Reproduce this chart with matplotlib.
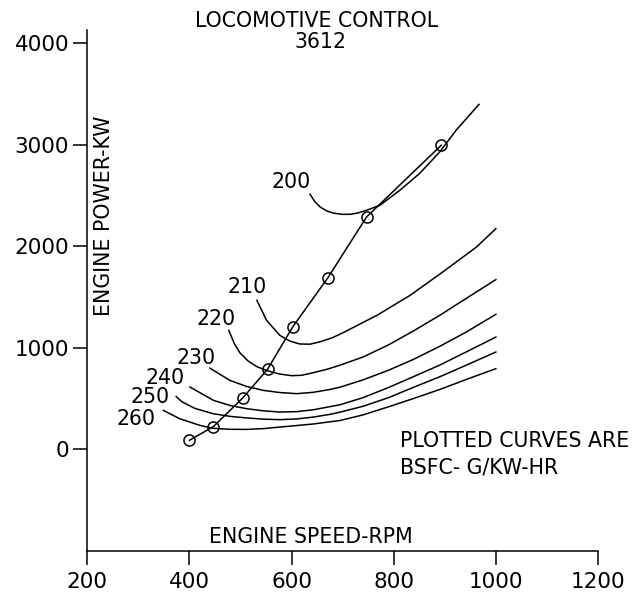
import matplotlib
matplotlib.use('Agg')
import matplotlib.pyplot as plt

plt.rcParams['font.family'] = ['DejaVu Sans']

# operating line (notch points)
op_rpm = [400, 447, 505, 553, 602, 671, 747, 893]
op_kw = [90, 225, 510, 790, 1205, 1690, 2290, 2995]

# constant BSFC curves, g/kW-hr
bsfc200_rpm = [636, 646, 656, 669, 681, 698, 714, 730, 747, 773, 812, 851, 890, 923, 967]
bsfc200_kw = [2512, 2437, 2387, 2348, 2328, 2315, 2315, 2328, 2355, 2404, 2552, 2719, 2929, 3148, 3398]

bsfc210_rpm = [532, 551, 577, 597, 616, 636, 656, 680, 701, 767, 832, 896, 962, 1000]
bsfc210_kw = [1468, 1271, 1123, 1066, 1038, 1036, 1060, 1100, 1150, 1320, 1517, 1747, 1993, 2174]

bsfc220_rpm = [477, 488, 499, 515, 532, 552, 577, 600, 620, 642, 670, 695, 740, 790, 838, 890, 936, 1000]
bsfc220_kw = [1172, 1040, 950, 870, 815, 775, 742, 726, 730, 755, 790, 830, 910, 1030, 1165, 1320, 1468, 1672]

bsfc230_rpm = [440, 479, 512, 545, 577, 610, 642, 675, 695, 740, 790, 838, 890, 940, 1000]
bsfc230_kw = [800, 680, 620, 581, 560, 549, 562, 590, 613, 685, 780, 885, 1015, 1150, 1330]

bsfc240_rpm = [401, 447, 480, 512, 545, 577, 610, 642, 695, 740, 790, 838, 890, 940, 1000]
bsfc240_kw = [614, 483, 432, 401, 380, 368, 372, 390, 440, 510, 610, 715, 830, 955, 1106]

bsfc250_rpm = [374, 385, 410, 446, 480, 512, 545, 577, 610, 642, 675, 695, 740, 790, 838, 890, 940, 1000]
bsfc250_kw = [520, 470, 405, 352, 325, 310, 298, 293, 300, 318, 345, 367, 425, 510, 610, 715, 825, 959]

bsfc260_rpm = [349, 381, 421, 446, 480, 512, 545, 577, 642, 695, 740, 790, 838, 890, 940, 1000]
bsfc260_kw = [384, 302, 236, 208, 198, 197, 205, 220, 250, 285, 340, 420, 500, 590, 685, 795]

curve_labels = ['200', '210', '220', '230', '240', '250', '260']
label_rpm = [600, 513, 453, 412, 352, 323, 296]
label_kw = [2630, 1596, 1281, 901, 699, 517, 295]

x_ticks = [200, 400, 600, 800, 1000, 1200]
y_ticks = [0, 1000, 2000, 3000, 4000]

curves = [
    (bsfc200_rpm, bsfc200_kw),
    (bsfc210_rpm, bsfc210_kw),
    (bsfc220_rpm, bsfc220_kw),
    (bsfc230_rpm, bsfc230_kw),
    (bsfc240_rpm, bsfc240_kw),
    (bsfc250_rpm, bsfc250_kw),
    (bsfc260_rpm, bsfc260_kw),
]

fig = plt.figure(figsize=(6.42, 5.95), dpi=100)
ax = fig.add_axes([0.136, 0.074, 0.7955, 0.8756])

for rpm, kw in curves:
    ax.plot(rpm, kw, color='black', lw=1.1, solid_joinstyle='round')

ax.plot(op_rpm, op_kw, color='black', lw=1.1, marker='o', markersize=8,
        markerfacecolor='none', markeredgecolor='black', markeredgewidth=1.1)

fs = 14.8
for lab, x, y in zip(curve_labels, label_rpm, label_kw):
    ax.text(x, y, lab, fontsize=fs, ha='center', va='center')

ax.set_xlim(200, 1200)
ax.set_ylim(-1000, 4130)
ax.set_xticks(x_ticks)
ax.set_yticks(y_ticks)
ax.tick_params(axis='both', direction='out', length=10, width=1.1,
               labelsize=15.5, colors='black', pad=3)
ax.tick_params(axis='x', pad=5)
for s in ['top', 'right']:
    ax.spines[s].set_visible(False)
for s in ['left', 'bottom']:
    ax.spines[s].set_linewidth(1.1)
ax.spines['bottom'].set_bounds(200, 1200)

# axis titles sit inside the frame
ax.text(638, -867, 'ENGINE SPEED-RPM', fontsize=fs, ha='center', va='center')
ax.text(233, 2305, 'ENGINE POWER-KW', fontsize=fs, ha='center', va='center', rotation=90)

ax.text(812, 84, 'PLOTTED CURVES ARE', fontsize=fs, ha='left', va='center')
ax.text(812, -177, 'BSFC- G/KW-HR', fontsize=fs, ha='left', va='center')

fig.text(316.5 / 642, 1 - 21 / 595, 'LOCOMOTIVE CONTROL', fontsize=fs, ha='center', va='center')
fig.text(321 / 642, 1 - 42 / 595, '3612', fontsize=fs, ha='center', va='center')

fig.savefig('out.png', dpi=100)
